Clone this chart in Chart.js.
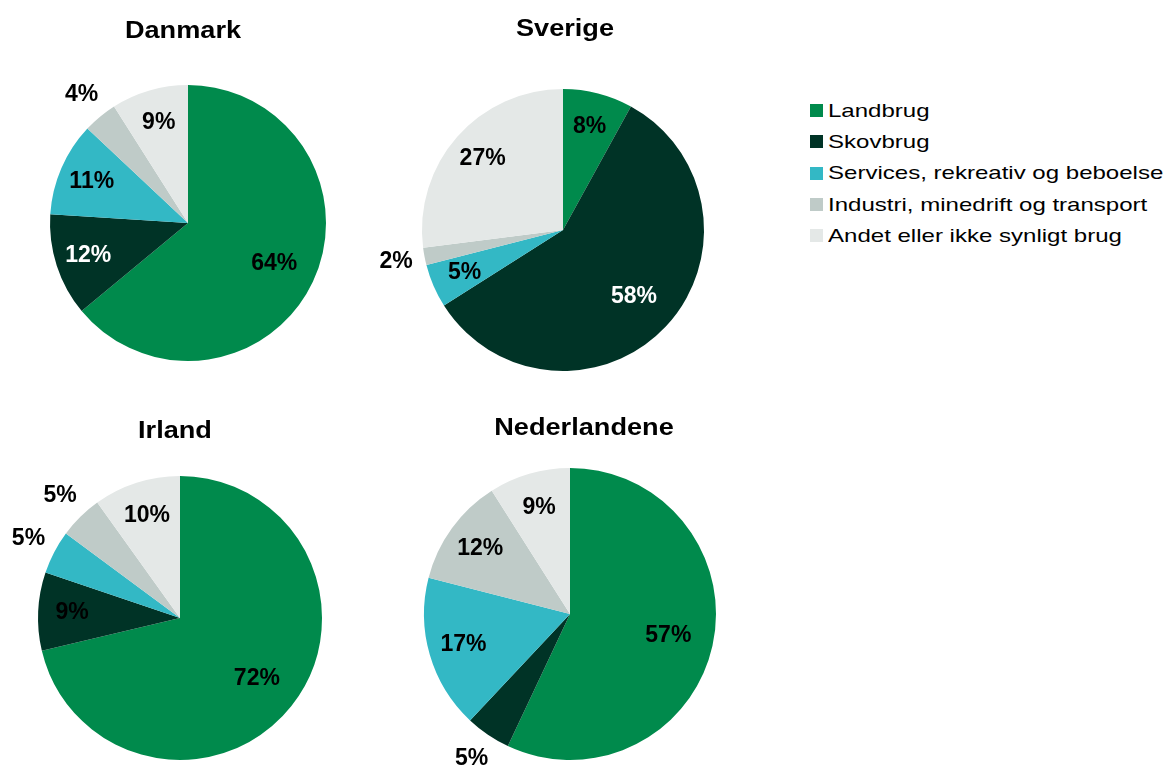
<!DOCTYPE html>
<html>
<head>
<meta charset="utf-8">
<script src="https://cdn.jsdelivr.net/npm/chart.js@4.4.0/dist/chart.umd.min.js"></script>
<style>
  html, body { margin: 0; padding: 0; background: #fff; }
  body { width: 1163px; height: 765px; overflow: hidden; position: relative; font-family: "Liberation Sans", Arial, sans-serif; }
  canvas { position: absolute; }
  .title { position: absolute; font-weight: bold; font-size: 23px; color: #000; white-space: nowrap; transform: translate(-50%, -50%) scaleX(1.18); }
  #legend { position: absolute; left: 810px; top: 95px; }
  .row { height: 31.3px; display: flex; align-items: center; }
  .box { width: 13px; height: 13px; margin-right: 5px; flex: none; }
  .row span { font-size: 19px; color: #000; white-space: nowrap; display: inline-block; transform: scaleX(1.265); transform-origin: left center; }
</style>
</head>
<body>
<div id="legend"></div>
<script>
// categories and values (percent of area)
var categories = ['Landbrug', 'Skovbrug', 'Services, rekreativ og beboelse', 'Industri, minedrift og transport', 'Andet eller ikke synligt brug'];
var countries = ['Danmark', 'Sverige', 'Irland', 'Nederlandene'];
var danmark = [64, 12, 11, 4, 9];
var sverige = [8, 58, 5, 2, 27];
var irland = [72, 9, 5, 5, 10];
var nederlandene = [57, 5, 17, 12, 9];

var colors = ['#008a4c', '#003326', '#33b8c5', '#bfcbc8', '#e4e8e7'];

// where each pie sits on the page, and which labels go outside / in white
var layout = [
  { values: danmark,      cx: 188, cy: 223, r: 138, tx: 183, ty: 30,  outside: [3],    white: [1] },
  { values: sverige,      cx: 563, cy: 230, r: 141, tx: 565, ty: 28,  outside: [3],    white: [1] },
  { values: irland,       cx: 180, cy: 618, r: 142, tx: 175, ty: 430, outside: [2, 3], white: [] },
  { values: nederlandene, cx: 570, cy: 614, r: 146, tx: 584, ty: 427, outside: [1],    white: [] }
];

var pad = 60;

var pctLabels = {
  id: 'pctLabels',
  afterDatasetsDraw: function(chart, args, opts) {
    var ctx = chart.ctx;
    var meta = chart.getDatasetMeta(0);
    var vals = chart.data.datasets[0].data;
    ctx.save();
    ctx.font = 'bold 23px "Liberation Sans", Arial, sans-serif';
    ctx.textAlign = 'center';
    ctx.textBaseline = 'middle';
    meta.data.forEach(function(arc, i) {
      var p = arc.getProps(['x', 'y', 'startAngle', 'endAngle', 'outerRadius'], true);
      var mid = (p.startAngle + p.endAngle) / 2;
      var out = opts.outside.indexOf(i) >= 0;
      // big slices get their label nearer the centre
      var d = out ? p.outerRadius + 29 : p.outerRadius * (vals[i] > 40 ? 0.69 : 0.76);
      ctx.fillStyle = opts.white.indexOf(i) >= 0 ? '#fff' : '#000';
      ctx.fillText(vals[i] + '%', p.x + Math.cos(mid) * d, p.y + Math.sin(mid) * d);
    });
    ctx.restore();
  }
};

layout.forEach(function(l, k) {
  var size = 2 * l.r + 2 * pad;
  var cv = document.createElement('canvas');
  cv.width = size;
  cv.height = size;
  cv.style.width = size + 'px';
  cv.style.height = size + 'px';
  cv.style.left = (l.cx - l.r - pad) + 'px';
  cv.style.top = (l.cy - l.r - pad) + 'px';
  document.body.appendChild(cv);

  var t = document.createElement('div');
  t.className = 'title';
  t.textContent = countries[k];
  t.style.left = l.tx + 'px';
  t.style.top = l.ty + 'px';
  document.body.appendChild(t);

  new Chart(cv, {
    type: 'pie',
    data: {
      labels: categories,
      datasets: [{
        data: l.values,
        backgroundColor: colors,
        borderWidth: 0
      }]
    },
    options: {
      responsive: false,
      animation: false,
      events: [],
      layout: { padding: pad },
      plugins: {
        legend: { display: false },
        tooltip: { enabled: false },
        title: { display: false },
        pctLabels: { outside: l.outside, white: l.white }
      }
    },
    plugins: [pctLabels]
  });
});

var legend = document.getElementById('legend');
categories.forEach(function(c, i) {
  var row = document.createElement('div');
  row.className = 'row';
  var b = document.createElement('div');
  b.className = 'box';
  b.style.background = colors[i];
  var s = document.createElement('span');
  s.textContent = c;
  row.appendChild(b);
  row.appendChild(s);
  legend.appendChild(row);
});
</script>
</body>
</html>
